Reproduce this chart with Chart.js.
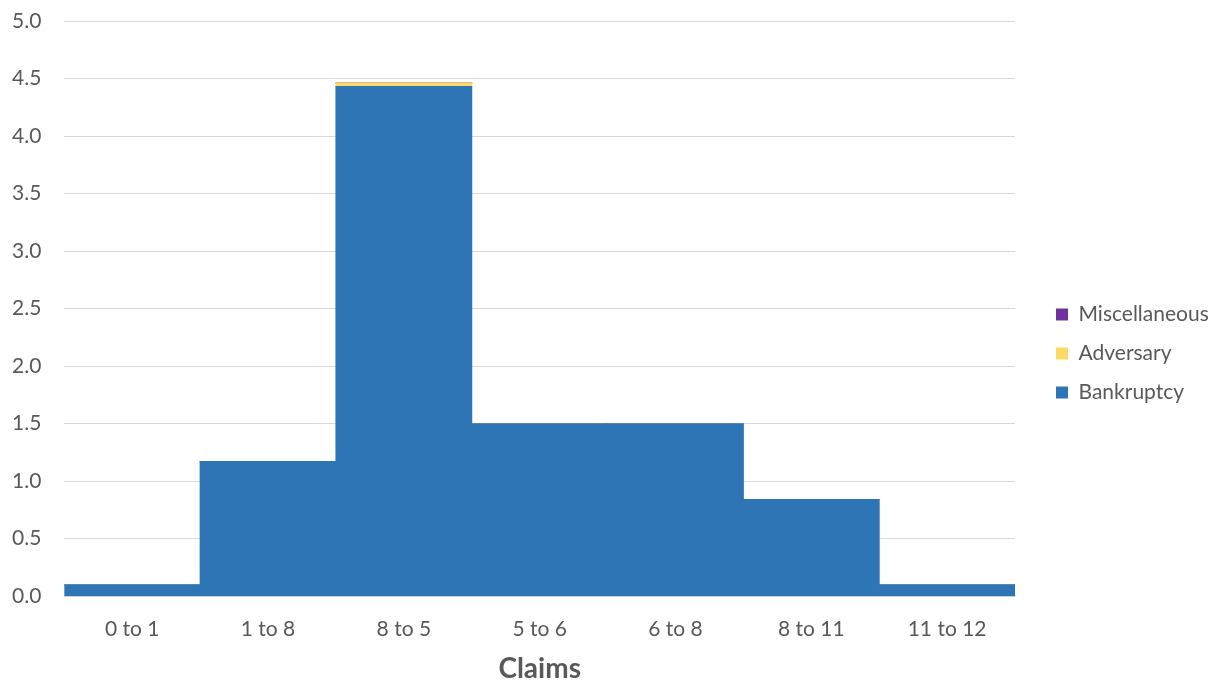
<!DOCTYPE html>
<html>
<head>
<meta charset="utf-8">
<script src="https://cdn.jsdelivr.net/npm/chart.js@4/dist/chart.umd.min.js"></script>
<style>
  html, body { margin: 0; padding: 0; background: #fff; }
  #wrap { width: 1225px; height: 686px; }
</style>
</head>
<body>
<div id="wrap"><canvas id="claimsChart" width="1225" height="686"></canvas></div>
<script>
// data
const categories = ['0 to 1', '1 to 8', '8 to 5', '5 to 6', '6 to 8', '8 to 11', '11 to 12'];
const bankruptcy = [0.1, 1.17, 4.43, 1.5, 1.5, 0.84, 0.1];
const adversary = [0, 0, 0.03, 0, 0, 0, 0];
const miscellaneous = [0, 0, 0, 0, 0, 0, 0];
const yTicks = [0, 0.5, 1, 1.5, 2, 2.5, 3, 3.5, 4, 4.5, 5];

const textColor = '#595959';
const gridColor = '#d9d9d9';
const clear = 'rgba(0,0,0,0)';

// legend gets a fixed width and sits a bit away from the plot
const legendBox = {
    id: 'legendBox',
    beforeUpdate(chart) {
        const lg = chart.legend;
        if (lg && !lg._fixedWidth) {
            const fit = lg.fit;
            lg.fit = function () {
                fit.call(this);
                this.width = 210;
            };
            lg._fixedWidth = true;
        }
    },
    afterLayout(chart) {
        if (chart.legend) chart.legend.left = chart.chartArea.right + 23;
    }
};

new Chart(document.getElementById('claimsChart'), {
    type: 'bar',
    data: {
        labels: categories,
        datasets: [
            { label: 'Bankruptcy', data: bankruptcy, backgroundColor: '#2E75B6' },
            { label: 'Adversary', data: adversary, backgroundColor: '#FFD966' },
            { label: 'Miscellaneous', data: miscellaneous, backgroundColor: '#7030A0' }
        ]
    },
    options: {
        responsive: false,
        animation: false,
        devicePixelRatio: 1,
        datasets: {
            // no gaps between bars, slight overlap hides the seams
            bar: { barPercentage: 1, categoryPercentage: 1, borderWidth: 0, inflateAmount: 0.5 }
        },
        layout: { padding: { left: 12, top: 21, right: 0, bottom: 0 } },
        scales: {
            x: {
                stacked: true,
                grid: { color: clear, drawOnChartArea: false, drawTicks: true, tickLength: 20, tickColor: clear },
                border: { display: true, color: gridColor, width: 1.5 },
                ticks: { color: textColor, padding: 0, font: { family: 'Lato', size: 21 } },
                title: {
                    display: true,
                    text: 'Claims',
                    color: textColor,
                    padding: { top: 11, bottom: 0 },
                    font: { family: 'Lato', size: 28, weight: 'bold' }
                }
            },
            y: {
                stacked: true,
                min: 0,
                max: 5,
                afterBuildTicks: axis => { axis.ticks = yTicks.map(v => ({ value: v })); },
                grid: { color: gridColor, lineWidth: 1, drawTicks: true, tickLength: 23, tickColor: clear },
                border: { display: false },
                ticks: {
                    color: textColor,
                    padding: 0,
                    font: { family: 'Lato', size: 21 },
                    callback: v => Number(v).toFixed(1)
                }
            }
        },
        plugins: {
            legend: {
                position: 'right',
                reverse: true,
                labels: {
                    color: textColor,
                    boxWidth: 12,
                    boxHeight: 12,
                    padding: 18,
                    font: { family: 'Lato', size: 21 }
                }
            },
            tooltip: { enabled: false }
        }
    },
    plugins: [legendBox]
});
</script>
</body>
</html>
